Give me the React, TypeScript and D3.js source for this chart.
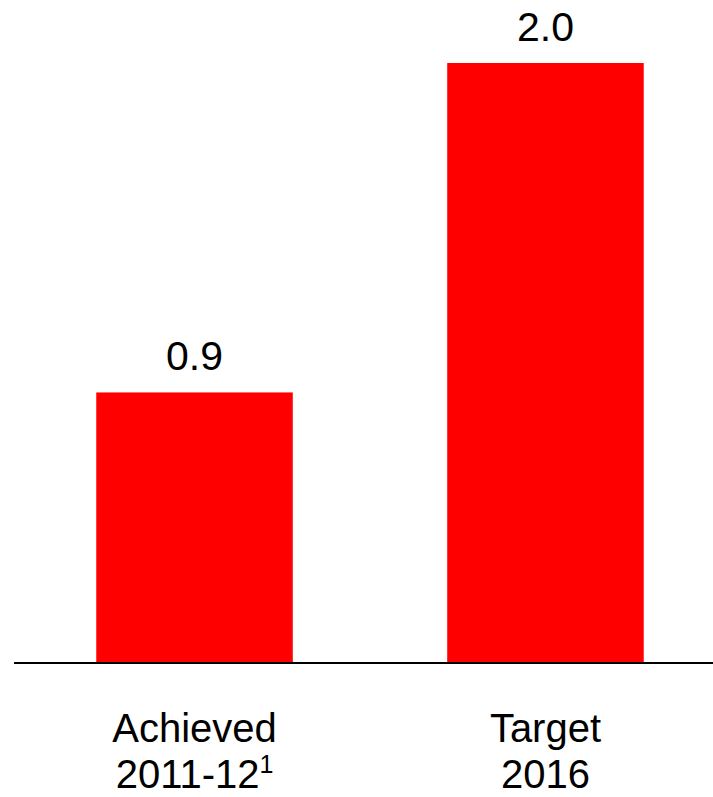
import * as d3 from "d3";
import React, { useEffect } from "react";

const CATEGORIES = ["Achieved", "Target"];
const SUBLABELS = ["2011-12", "2016"];
const SUPERSCRIPTS = ["1", ""];
const VALUES = [0.9, 2.0];
const VALUE_LABELS = ["0.9", "2.0"];

const W = 713;
const H = 797;
const FONT = "'Liberation Sans', Arial, sans-serif";

export default function App() {
  useEffect(() => {
    document.body.style.margin = "0";
  }, []);

  const x = d3.scaleBand<string>()
    .domain(CATEGORIES)
    .range([-2, 742])
    .paddingInner(0.44)
    .paddingOuter(0.28);

  const y = d3.scaleLinear().domain([0, 2.0]).range([662, 63]);

  return (
    <svg width={W} height={H} style={{ display: "block" }} fontFamily={FONT}>
      <rect width={W} height={H} fill="#fff" />
      {CATEGORIES.map((c, i) => {
        const x0 = x(c) ?? 0;
        const cx = x0 + x.bandwidth() / 2;
        return (
          <g key={c}>
            <rect x={x0} y={y(VALUES[i])} width={x.bandwidth()} height={y(0) - y(VALUES[i])} fill="#ff0000" />
            <text x={cx} y={y(VALUES[i]) - 22} textAnchor="middle" fontSize={41} fill="#000">
              {VALUE_LABELS[i]}
            </text>
            <text x={cx} y={742} textAnchor="middle" fontSize={40} fill="#000">
              {c}
            </text>
            <text x={cx} y={788} textAnchor="middle" fontSize={40} fill="#000">
              {SUBLABELS[i]}
              {SUPERSCRIPTS[i] && (
                <tspan fontSize={25} dy={-15}>{SUPERSCRIPTS[i]}</tspan>
              )}
            </text>
          </g>
        );
      })}
      <line x1={14} x2={W} y1={y(0) + 1} y2={y(0) + 1} stroke="#000" strokeWidth={2} />
    </svg>
  );
}
